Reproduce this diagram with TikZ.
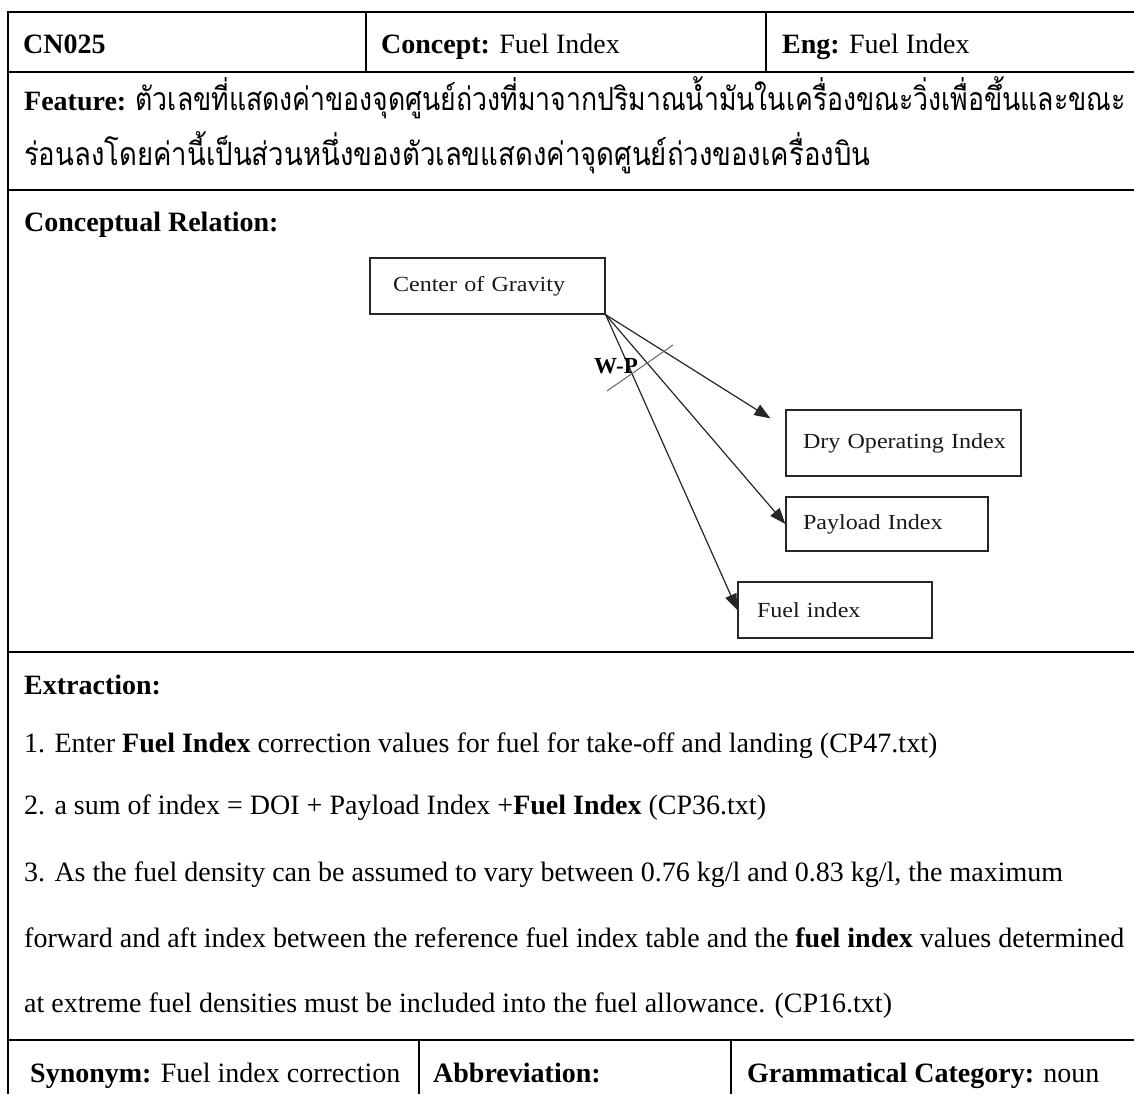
\documentclass[tikz,border=0pt]{standalone}
\usepackage{fontspec}
\usepackage{graphicx}
\setmainfont{Liberation Serif}
\newfontfamily\thaifont[Script=Thai]{Loma}
\newfontfamily\diagfont[FakeStretch=1.12]{Liberation Serif}
\usetikzlibrary{arrows.meta,calc}
% Thai text set at a fixed height and squeezed to a given width
\newcommand{\thailine}[2]{\resizebox{#1}{\height}{\thaifont\fontsize{32}{38}\selectfont #2}}

\begin{document}
\begin{tikzpicture}[x=1pt,y=-1pt,
  rule/.style={line width=2pt, black},
  cell/.style={anchor=base west, inner sep=0pt, font=\fontsize{28}{34}\selectfont},
  cbox/.style={draw=black!85, line width=1.3pt, inner ysep=0pt, align=left,
    font=\diagfont\fontsize{21.5}{24}\selectfont, text=black!90},
  rel/.style={draw=black!85, line width=1.2pt, -{Triangle[length=16pt,width=12pt]}},
  wplabel/.style={inner sep=0pt, font=\bfseries\fontsize{23}{24}\selectfont}
]
\useasboundingbox (0,0) rectangle (1134,1094);

% table rules
\draw[rule] (8,12) -- (1134,12);
\draw[rule] (8,72) -- (1134,72);
\draw[rule] (8,190) -- (1134,190);
\draw[rule] (8,652) -- (1134,652);
\draw[rule] (8,1040) -- (1134,1040);
\draw[rule] (8,11) -- (8,1094);
\draw[line width=1.6pt] (366,12) -- (366,72);
\draw[line width=1.6pt] (766,12) -- (766,72);
\draw[line width=1.6pt] (419,1040) -- (419,1094);
\draw[line width=1.6pt] (731,1040) -- (731,1094);

% header row
\node[cell] (id) at (23,54) {\textbf{CN025}};
\node[cell] (concept) at (381,54) {\textbf{Concept:} Fuel Index};
\node[cell] (eng) at (782,54) {\textbf{Eng:} Fuel Index};

% feature
\node[cell] (feat1) at (24,111) {\textbf{Feature:} \thailine{990pt}{ตัวเลขที่แสดงค่าของจุดศูนย์ถ่วงที่มาจากปริมาณน้ำมันในเครื่องขณะวิ่งเพื่อขึ้นและขณะ}};
\node[cell] (feat2) at (24,166) {\thailine{846pt}{ร่อนลงโดยค่านี้เป็นส่วนหนึ่งของตัวเลขแสดงค่าจุดศูนย์ถ่วงของเครื่องบิน}};

% conceptual relation
\node[cell] (crel) at (24,231) {\textbf{Conceptual Relation:}};

\node[cbox, minimum width=235pt, minimum height=56pt, text width=189pt, inner xsep=23pt] (cog) at (487.5,286) {\mbox{Center of Gravity}};
\node[cbox, minimum width=235pt, minimum height=66pt, text width=201pt, inner xsep=17pt] (doi) at (903.5,443) {\mbox{Dry Operating Index}\\[6pt]};
\node[cbox, minimum width=202pt, minimum height=54pt, text width=168pt, inner xsep=17pt] (pay) at (887,524) {\mbox{Payload Index}};
\node[cbox, minimum width=194pt, minimum height=56pt, text width=156pt, inner xsep=19pt] (fuel) at (835,610) {\mbox{Fuel index}};

\draw[rel] (cog.south east) -- ($(doi.north west)+(-15,9)$);
\draw[rel] (cog.south east) -- (pay.west);
\draw[rel] (cog.south east) -- (fuel.west);

\coordinate (cr1) at (607,391);
\coordinate (cr2) at (673,345);
\draw[line width=1pt, black!60] (cr1) -- (cr2);
\node[wplabel] (wp) at (616,366) {W-P};

% extraction
\node[cell] (ex) at (24,694) {\textbf{Extraction:}};
\node[cell] (ex1) at (24,752) {1. Enter \textbf{Fuel Index} correction values for fuel for take-off and landing (CP47.txt)};
\node[cell] (ex2) at (24,814) {2. a sum of index = DOI + Payload Index +\textbf{Fuel Index} (CP36.txt)};
\node[cell] (ex3) at (24,881) {3. As the fuel density can be assumed to vary between 0.76 kg/l and 0.83 kg/l, the maximum};
\node[cell] (ex4) at (24,947) {forward and aft index between the reference fuel index table and the \textbf{fuel index} values determined};
\node[cell] (ex5) at (24,1012) {at extreme fuel densities must be included into the fuel allowance. (CP16.txt)};

% bottom row
\node[cell] (syn) at (30,1082) {\textbf{Synonym:} Fuel index correction};
\node[cell] (abbr) at (433,1082) {\textbf{Abbreviation:}};
\node[cell] (gram) at (747,1082) {\textbf{Grammatical Category:} noun};
\end{tikzpicture}
\end{document}
